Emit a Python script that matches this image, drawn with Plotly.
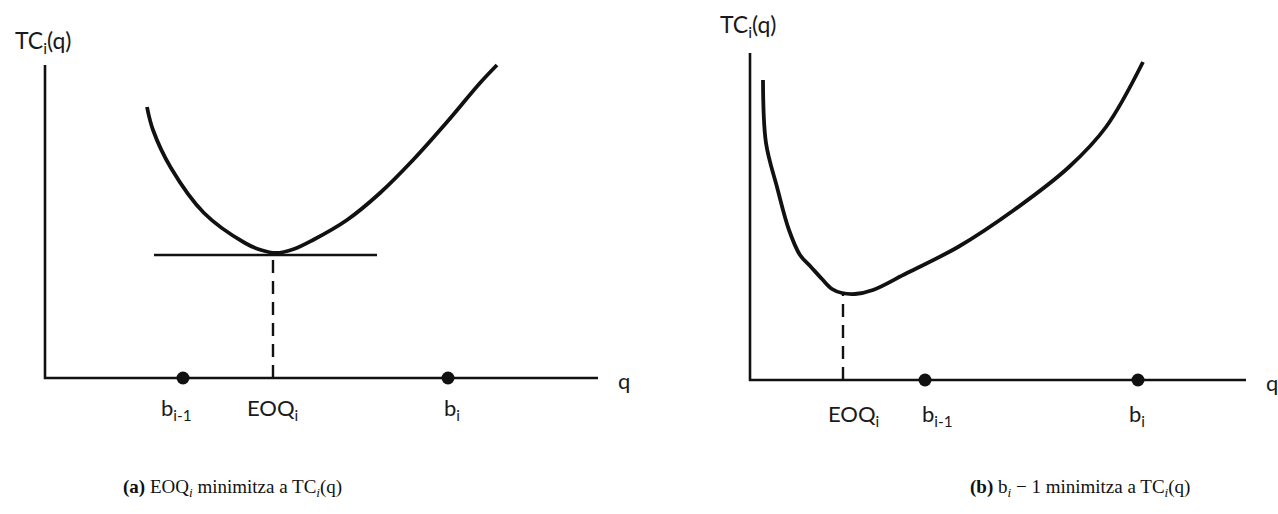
import plotly.graph_objects as go

# ---------------- data (arbitrary units: q along x, TC along y) ----------------
# Panel (a)
a_curve_q = [10.2, 10.8, 12.6, 15.9, 20.0, 21.6, 23.1, 24.9, 26.8, 30.2, 33.5, 36.8, 40.2, 43.5, 45.2]
a_curve_tc = [27.1, 24.8, 21.0, 16.5, 13.5, 12.8, 12.5, 12.9, 13.8, 15.8, 18.5, 21.8, 25.6, 29.5, 31.3]
a_tangent_q = [10.9, 33.2]
a_tangent_tc = 12.3
a_eoq = 22.8
a_b_prev = 13.8
a_b_i = 40.3
a_axis_q_end = 55.3
a_axis_tc_end = 31.3

# Panel (b)
b_curve_q = [1.3, 1.6, 2.7, 3.9, 5.0, 6.1, 7.2, 8.2, 9.2, 10.5, 12.3, 15.7, 20.8, 26.4, 31.9, 35.6, 39.3]
b_curve_tc = [30.0, 23.7, 19.3, 15.0, 12.5, 11.3, 10.1, 9.1, 8.7, 8.6, 9.0, 10.7, 13.3, 17.0, 21.3, 25.3, 31.8]
b_eoq = 9.3
b_eoq_tc = 8.6
b_b_prev = 17.5
b_b_i = 38.8
b_axis_q_end = 49.6
b_axis_tc_end = 32.7

tick_labels_a = ["b<sub>i-1</sub>", "EOQ<sub>i</sub>", "b<sub>i</sub>"]
tick_labels_b = ["EOQ<sub>i</sub>", "b<sub>i-1</sub>", "b<sub>i</sub>"]
y_title = "TC<sub>i</sub>(q)"
x_title = "q"
captions = [
    "<b>(a)</b> EOQ<sub><i>i</i></sub> minimitza a TC<sub><i>i</i></sub>(q)",
    "<b>(b)</b> b<sub><i>i</i></sub> − 1 minimitza a TC<sub><i>i</i></sub>(q)",
]

# ---------------- figure ----------------
INK = "#111111"
LABEL_FONT = dict(family="Lato, Open Sans, sans-serif", size=22, color="#1a1a1a")
TITLE_FONT = dict(family="Lato, Open Sans, sans-serif", size=23, color="#1a1a1a")

fig = go.Figure()


def add_panel(xa, cq, ctc, eoq, eoq_tc, bprev, bi, qend, tcend, ticks,
              label_pos, label_dx, label_dy, title_dy, tangent=None):
    xr, yr = ("x", "y") if xa == 1 else (f"x{xa}", f"y{xa}")
    # axes lines
    fig.add_trace(go.Scatter(x=[0, 0, qend], y=[tcend, 0, 0], mode="lines",
                             line=dict(color=INK, width=2.6), xaxis=xr, yaxis=yr,
                             hoverinfo="skip", showlegend=False))
    # curve
    fig.add_trace(go.Scatter(x=cq, y=ctc, mode="lines",
                             line=dict(color=INK, width=3.8, shape="spline", smoothing=1.0),
                             xaxis=xr, yaxis=yr, showlegend=False))
    # tangent
    if tangent is not None:
        fig.add_trace(go.Scatter(x=tangent[0], y=[tangent[1]] * 2, mode="lines",
                                 line=dict(color=INK, width=2.6), xaxis=xr, yaxis=yr,
                                 hoverinfo="skip", showlegend=False))
    # dashed EOQ line
    fig.add_trace(go.Scatter(x=[eoq, eoq], y=[0, eoq_tc], mode="lines",
                             line=dict(color=INK, width=2.4, dash="13px,8px"),
                             xaxis=xr, yaxis=yr, hoverinfo="skip", showlegend=False))
    # breakpoint dots
    fig.add_trace(go.Scatter(x=[bprev, bi], y=[0, 0], mode="markers",
                             marker=dict(color=INK, size=13), xaxis=xr, yaxis=yr,
                             showlegend=False))
    # labels under the axis
    for pos, txt, dx in zip(label_pos, ticks, label_dx):
        fig.add_annotation(x=pos, y=0, xref=xr, yref=yr, text=txt, showarrow=False,
                           xanchor="center", yanchor="middle", yshift=label_dy, xshift=dx,
                           font=LABEL_FONT)
    fig.add_annotation(x=qend, y=0, xref=xr, yref=yr, text=x_title, showarrow=False,
                       xanchor="left", yanchor="middle", xshift=18, yshift=-2, font=LABEL_FONT)
    fig.add_annotation(x=0, y=tcend, xref=xr, yref=yr, text=y_title, showarrow=False,
                       xanchor="center", yanchor="bottom", yshift=title_dy,
                       xshift=-2, font=TITLE_FONT)


add_panel(1, a_curve_q, a_curve_tc, a_eoq, a_tangent_tc, a_b_prev, a_b_i,
          a_axis_q_end, a_axis_tc_end, tick_labels_a,
          label_pos=[a_b_prev, a_eoq, a_b_i], label_dx=[-7, -1, 4], label_dy=-31,
          title_dy=6, tangent=(a_tangent_q, a_tangent_tc))
add_panel(2, b_curve_q, b_curve_tc, b_eoq, b_eoq_tc, b_b_prev, b_b_i,
          b_axis_q_end, b_axis_tc_end, tick_labels_b,
          label_pos=[b_eoq, b_b_prev, b_b_i], label_dx=[10, 12, -1], label_dy=-35,
          title_dy=10)

CAP_FONT = dict(family="Liberation Serif, DejaVu Serif, serif", size=19, color="#111111")
fig.add_annotation(x=0.1823, y=0.051, xref="paper", yref="paper", text=captions[0],
                   xanchor="center", yanchor="middle", showarrow=False, font=CAP_FONT)
fig.add_annotation(x=0.845, y=0.051, xref="paper", yref="paper", text=captions[1],
                   xanchor="center", yanchor="middle", showarrow=False, font=CAP_FONT)

hidden = dict(visible=False, showgrid=False, zeroline=False, fixedrange=True)
fig.update_layout(
    width=1278, height=514,
    margin=dict(l=0, r=0, t=0, b=0),
    paper_bgcolor="white", plot_bgcolor="white",
    xaxis=dict(domain=[0, 0.5], range=[-4.5, 59.4], **hidden),
    yaxis=dict(domain=[0, 1], range=[-13.6, 37.8], **hidden),
    xaxis2=dict(domain=[0.5, 1], range=[-11.1, 52.8], **hidden),
    yaxis2=dict(domain=[0, 1], range=[-13.4, 38.0], anchor="x2", **hidden),
    showlegend=False,
)

fig.write_html(
    "out.html",
    config={"displayModeBar": False},
    post_script="document.body.style.margin='0';document.body.style.overflow='hidden';",
)
